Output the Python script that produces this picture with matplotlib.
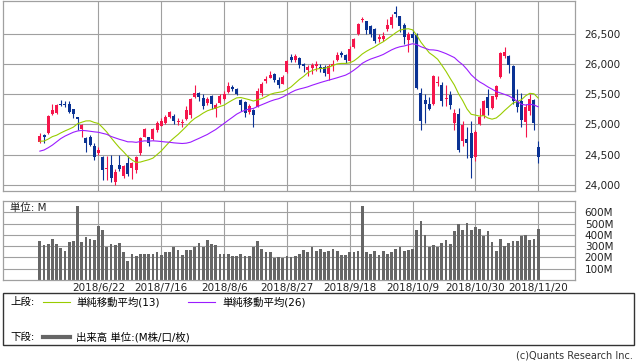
import matplotlib
matplotlib.use('Agg')
import matplotlib.pyplot as plt
from matplotlib.lines import Line2D
from matplotlib.patches import Rectangle
import numpy as np
import pandas as pd

plt.rcParams['font.family'] = ['DejaVu Sans', 'Noto Sans CJK JP']

# --- data (daily OHLC + volume, 2018-06-04 .. 2018-11-20) ---
holidays = ['2018-07-04', '2018-09-03']

# closes before the first drawn day, needed for the moving averages
prior_close = [24311.19, 24163.15, 24099.05, 23924.98, 23930.15, 24262.51, 24357.32,
               24360.21, 24542.54, 24739.53, 24831.17, 24899.41, 24706.41, 24768.93,
               24713.98, 24715.09, 25013.29, 24834.41, 24886.81, 24811.76, 24753.09,
               24361.45, 24667.78, 24415.84, 24635.21]

opens = [24715, 24830, 24853, 25165, 25187, 25340, 25340, 25330, 25247, 25117,
         24918, 24770, 24800, 24645, 24525, 24463, 24270, 24330, 24056, 24330,
         24155, 24370, 24277, 24248, 24523, 24797, 24797, 24760, 24907, 24980,
         25027, 25127, 25137, 25045, 25030, 25085, 25155, 25456, 25522, 25440,
         25350, 25467, 25248, 25350, 25418, 25538, 25620, 25588, 25400, 25373,
         25200, 25237, 25291, 25522, 25715, 25775, 25830, 25731, 25676, 25868,
         26110, 26060, 26105, 26000, 25900, 25930, 25960, 25950, 25950, 25841,
         25960, 26060, 26180, 26143, 26049, 26280, 26500, 26720, 26702, 26620,
         26582, 26420, 26410, 26582, 26637, 26850, 26790, 26648, 26400, 26500,
         26472, 25522, 25401, 25335, 25335, 25690, 25648, 25413, 25484, 25027,
         25169, 24731, 24766, 24853, 24468, 25006, 25138, 25456, 25270, 25446,
         25785, 26127, 26126, 25961, 25390, 25390, 25044, 25225, 25401, 24622]

highs = [24860, 24850, 25160, 25330, 25330, 25400, 25390, 25390, 25260, 25130,
         25010, 24790, 24830, 24700, 24620, 24470, 24470, 24500, 24260, 24500,
         24330, 24470, 24380, 24480, 24790, 24940, 24800, 24940, 25050, 25110,
         25160, 25230, 25180, 25100, 25090, 25300, 25430, 25650, 25540, 25500,
         25460, 25490, 25350, 25500, 25560, 25700, 25650, 25610, 25420, 25390,
         25330, 25250, 25600, 25700, 25800, 25890, 25850, 25780, 25810, 26070,
         26160, 26170, 26110, 26020, 25990, 26010, 26050, 26000, 25980, 26000,
         26070, 26200, 26220, 26170, 26290, 26430, 26680, 26780, 26710, 26650,
         26600, 26500, 26520, 26740, 26830, 26951, 26800, 26680, 26530, 26560,
         26510, 25600, 25500, 25460, 25820, 25800, 25700, 25650, 25560, 25250,
         25270, 25050, 24950, 25050, 24900, 25270, 25400, 25580, 25470, 25650,
         26200, 26280, 26150, 25980, 25590, 25520, 25330, 25500, 25420, 24720]

lows = [24700, 24700, 24840, 25150, 25170, 25300, 25280, 25190, 25100, 24900,
        24800, 24550, 24640, 24420, 24500, 24080, 24080, 24050, 24000, 24230,
        24120, 24150, 24100, 24200, 24500, 24790, 24650, 24750, 24880, 24970,
        25000, 25100, 25000, 24990, 24960, 25070, 25100, 25440, 25380, 25250,
        25320, 25250, 25130, 25330, 25400, 25520, 25560, 25490, 25220, 25120,
        25180, 24965, 25280, 25470, 25680, 25760, 25700, 25600, 25660, 25850,
        26030, 26030, 25930, 25870, 25800, 25830, 25880, 25860, 25800, 25730,
        25880, 26040, 26120, 26010, 26040, 26260, 26480, 26700, 26500, 26450,
        26350, 26360, 26380, 26540, 26600, 26780, 26530, 26330, 26200, 26360,
        25590, 24900, 25020, 25240, 25320, 25640, 25300, 25300, 25250, 24900,
        24550, 24650, 24450, 24122, 24400, 24990, 25100, 25150, 25250, 25420,
        25770, 26100, 25850, 25330, 25210, 24950, 24800, 25150, 24900, 24370]

closes = [24813.69, 24799.98, 25146.39, 25241.41, 25316.53, 25322.31, 25320.73, 25201.20, 25175.31, 25090.48,
          24987.47, 24700.21, 24657.80, 24461.70, 24580.89, 24252.80, 24283.11, 24117.59, 24216.05, 24271.41,
          24307.18, 24174.82, 24356.74, 24456.48, 24776.59, 24919.66, 24700.45, 24924.89, 25019.41, 25064.36,
          25119.89, 25199.29, 25064.50, 25058.12, 25044.29, 25241.94, 25414.10, 25527.07, 25451.06, 25306.83,
          25415.19, 25333.82, 25326.16, 25462.58, 25502.18, 25628.91, 25583.75, 25509.23, 25313.14, 25187.70,
          25299.92, 25162.41, 25558.73, 25669.32, 25758.69, 25822.29, 25733.60, 25656.98, 25790.35, 26049.64,
          26064.02, 26124.57, 25986.92, 25964.82, 25952.48, 25974.99, 25995.87, 25916.54, 25857.07, 25971.06,
          25998.92, 26145.99, 26154.67, 26062.12, 26246.96, 26405.76, 26656.98, 26743.50, 26562.05, 26492.21,
          26385.28, 26439.93, 26458.31, 26651.21, 26773.94, 26828.39, 26627.48, 26447.05, 26486.78, 26430.57,
          25598.74, 25052.83, 25339.99, 25250.55, 25798.42, 25706.68, 25379.45, 25444.34, 25317.41, 25191.43,
          24583.42, 24984.55, 24688.31, 24442.92, 24874.64, 25115.76, 25380.74, 25270.83, 25461.70, 25635.01,
          26180.30, 26191.22, 25989.30, 25387.18, 25286.49, 25080.50, 25289.27, 25413.22, 25017.44, 24465.64]

# volume in millions
volumes = [342, 306, 315, 360, 315, 282, 261, 333, 342, 660,
           333, 378, 360, 351, 477, 441, 294, 315, 306, 324,
           246, 165, 234, 216, 234, 234, 234, 234, 252, 225,
           252, 252, 291, 270, 225, 270, 270, 294, 324, 294,
           354, 315, 306, 234, 234, 234, 216, 216, 234, 216,
           216, 294, 342, 279, 246, 246, 198, 207, 198, 216,
           207, 216, 234, 270, 252, 288, 261, 279, 252, 261,
           279, 261, 225, 225, 246, 252, 261, 660, 252, 234,
           261, 225, 261, 234, 252, 279, 288, 261, 270, 279,
           441, 522, 396, 291, 306, 294, 324, 351, 315, 432,
           495, 441, 504, 441, 468, 450, 387, 432, 333, 261,
           360, 297, 324, 342, 342, 387, 396, 351, 360, 450]

tick_labels = ['2018/6/22', '2018/7/16', '2018/8/6', '2018/8/27',
               '2018/9/18', '2018/10/9', '2018/10/30', '2018/11/20']
price_ticks = [24000, 24500, 25000, 25500, 26000, 26500]
volume_ticks = [100, 200, 300, 400, 500, 600]

RED = '#f5154b'
BLUE = '#0a3294'
GREEN = '#99cc00'
PURPLE = '#9b1cff'
GRID = '#a0a0a0'

dates = pd.bdate_range('2018-06-04', '2018-11-20')
dates = dates[~dates.isin(pd.to_datetime(holidays))]
date_labels = [f'{d.year}/{d.month}/{d.day}' for d in dates]
tick_pos = [date_labels.index(t) for t in tick_labels]

o = np.array(opens, float)
h = np.array(highs, float)
l = np.array(lows, float)
c = np.array(closes, float)
x = np.arange(len(c))

s = pd.Series(prior_close + closes)
ma13 = s.rolling(13).mean().iloc[len(prior_close):].values
ma26 = s.rolling(26).mean().iloc[len(prior_close):].values

W, H = 638, 362
fig = plt.figure(figsize=(W / 100, H / 100), dpi=100)


def px_axes(left, top, right, bottom):
    return fig.add_axes([left / W, 1 - bottom / H, (right - left) / W, (bottom - top) / H])


def style(a):
    for sp in a.spines.values():
        sp.set_color(GRID)
        sp.set_linewidth(0.9)
    a.grid(True, color=GRID, lw=0.8)
    a.set_axisbelow(True)
    a.tick_params(length=0, labelsize=7.5, colors='#222222')
    a.yaxis.tick_right()
    a.set_xlim(-8.8, 127.8)
    a.set_xticks(tick_pos)


# --- price panel ---
ax = px_axes(3, 0.5, 575, 190.5)
style(ax)
colors = np.where(c >= o, RED, BLUE)
ax.vlines(x, l, h, colors=colors, lw=0.8, zorder=2)
ax.bar(x, np.maximum(np.abs(c - o), 15), bottom=np.minimum(o, c), width=0.72,
       color=colors, zorder=2)
ax.plot(x, ma13, color=GREEN, lw=0.8, zorder=3)
ax.plot(x, ma26, color=PURPLE, lw=0.8, zorder=3)
ax.set_ylim(23908, 27048)
ax.set_yticks(price_ticks)
ax.set_yticklabels([f'{v:,}' for v in price_ticks])
ax.tick_params(axis='y', pad=7)
ax.set_xticklabels([])

# --- volume panel ---
axv = px_axes(3, 201, 575, 280)
style(axv)
axv.bar(x, volumes, width=0.65, color='#666666', zorder=2)
axv.set_ylim(0, 700)
axv.set_yticks(volume_ticks)
axv.set_yticklabels([f'{v}M' for v in volume_ticks])
axv.tick_params(axis='y', pad=7)
axv.set_xticklabels(tick_labels)
axv.tick_params(axis='x', pad=2)
axv.text(7 / 572, 0.91, '単位: M', transform=axv.transAxes, fontsize=7.5,
         va='center', ha='left', color='#222222')

# --- legend box ---
fig.patches.append(Rectangle((3 / W, 1 - 345 / H), 631 / W, 52 / H,
                             transform=fig.transFigure, fill=False,
                             edgecolor='#333333', lw=1))


def fx(px):
    return px / W


def fy(py):
    return 1 - py / H


fig.text(fx(10), fy(302), '上段:', fontsize=7.5, va='center')
fig.lines.append(Line2D([fx(43), fx(70)], [fy(302), fy(302)], color=GREEN, lw=0.8,
                        transform=fig.transFigure))
fig.text(fx(76), fy(302), '単純移動平均(13)', fontsize=7.5, va='center')
fig.lines.append(Line2D([fx(188), fx(215)], [fy(302), fy(302)], color=PURPLE, lw=0.8,
                        transform=fig.transFigure))
fig.text(fx(222), fy(302), '単純移動平均(26)', fontsize=7.5, va='center')

fig.text(fx(10), fy(337), '下段:', fontsize=7.5, va='center')
fig.lines.append(Line2D([fx(43), fx(70)], [fy(337), fy(337)], color='#666666', lw=3,
                        transform=fig.transFigure))
fig.text(fx(76), fy(337), '出来高 単位:(M株/口/枚)', fontsize=7.5, va='center')

fig.text(fx(633), fy(356), '(c)Quants Research Inc.', fontsize=7, va='center',
         ha='right', color='#333333')

fig.savefig('out.png', dpi=100, facecolor='white')
plt.close(fig)
